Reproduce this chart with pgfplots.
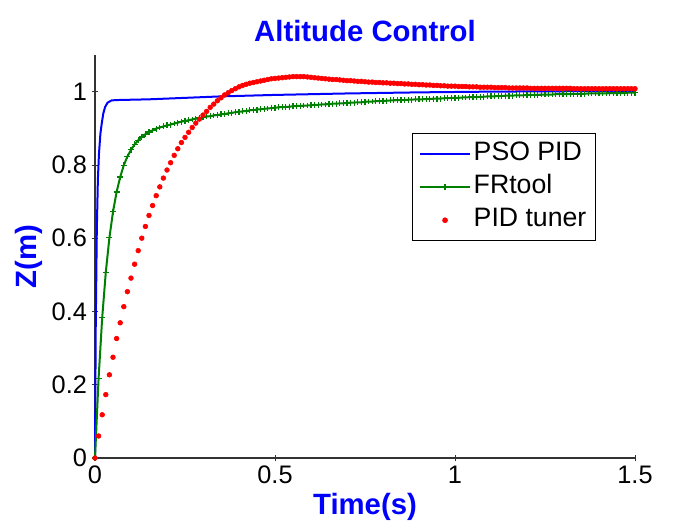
\documentclass[border=0pt]{standalone}
\usepackage{fontspec}
\setmainfont{Liberation Sans}
\usepackage{pgfplots}
\pgfplotsset{compat=1.18}
\usepackage{pgfplotstable}

\definecolor{mblue}{RGB}{0,0,255}
\definecolor{mgreen}{RGB}{0,128,0}
\definecolor{mred}{RGB}{255,0,0}

% PSO PID response
\pgfplotstableread{
t z
0.000 0.000
0.002 0.350
0.005 0.620
0.008 0.760
0.011 0.830
0.015 0.885
0.019 0.915
0.023 0.940
0.028 0.958
0.035 0.970
0.046 0.976
0.060 0.977
0.150 0.979
0.250 0.983
0.350 0.987
0.500 0.991
0.700 0.995
0.900 0.998
1.100 1.000
1.300 1.001
1.500 1.002
}\psodata

% FRtool response
\pgfplotstableread{
t z
0.00 0.000
0.01 0.218
0.02 0.383
0.03 0.507
0.04 0.601
0.05 0.672
0.06 0.726
0.07 0.767
0.08 0.799
0.09 0.823
0.10 0.841
0.11 0.856
0.12 0.867
0.13 0.876
0.14 0.884
0.15 0.890
0.16 0.894
0.17 0.899
0.18 0.902
0.19 0.905
0.20 0.908
0.21 0.910
0.22 0.913
0.23 0.915
0.24 0.918
0.25 0.920
0.26 0.922
0.27 0.924
0.28 0.926
0.29 0.928
0.30 0.930
0.31 0.932
0.32 0.933
0.33 0.935
0.34 0.936
0.35 0.938
0.36 0.939
0.37 0.941
0.38 0.942
0.39 0.944
0.40 0.945
0.41 0.946
0.42 0.947
0.43 0.949
0.44 0.950
0.45 0.951
0.46 0.952
0.47 0.953
0.48 0.954
0.49 0.955
0.50 0.956
0.51 0.957
0.52 0.958
0.53 0.958
0.54 0.959
0.55 0.960
0.56 0.961
0.57 0.961
0.58 0.962
0.59 0.962
0.60 0.963
0.61 0.964
0.62 0.964
0.63 0.965
0.64 0.965
0.65 0.966
0.66 0.967
0.67 0.967
0.68 0.968
0.69 0.968
0.70 0.969
0.71 0.970
0.72 0.970
0.73 0.971
0.74 0.971
0.75 0.972
0.76 0.973
0.77 0.973
0.78 0.974
0.79 0.974
0.80 0.975
0.81 0.975
0.82 0.976
0.83 0.976
0.84 0.977
0.85 0.977
0.86 0.977
0.87 0.978
0.88 0.978
0.89 0.979
0.90 0.979
0.91 0.979
0.92 0.980
0.93 0.980
0.94 0.981
0.95 0.981
0.96 0.981
0.97 0.982
0.98 0.982
0.99 0.983
1.00 0.983
1.01 0.983
1.02 0.984
1.03 0.984
1.04 0.985
1.05 0.985
1.06 0.985
1.07 0.986
1.08 0.986
1.09 0.987
1.10 0.987
1.11 0.987
1.12 0.988
1.13 0.988
1.14 0.989
1.15 0.989
1.16 0.989
1.17 0.990
1.18 0.990
1.19 0.990
1.20 0.991
1.21 0.991
1.22 0.991
1.23 0.991
1.24 0.992
1.25 0.992
1.26 0.992
1.27 0.992
1.28 0.993
1.29 0.993
1.30 0.993
1.31 0.993
1.32 0.993
1.33 0.994
1.34 0.994
1.35 0.994
1.36 0.994
1.37 0.995
1.38 0.995
1.39 0.995
1.40 0.995
1.41 0.995
1.42 0.995
1.43 0.996
1.44 0.996
1.45 0.996
1.46 0.996
1.47 0.996
1.48 0.997
1.49 0.997
1.50 0.997
}\frdata

% PID tuner response
\pgfplotstableread{
t z
0.00 0.000
0.01 0.060
0.02 0.118
0.03 0.173
0.04 0.227
0.05 0.275
0.06 0.326
0.07 0.369
0.08 0.413
0.09 0.454
0.10 0.491
0.11 0.529
0.12 0.566
0.13 0.600
0.14 0.632
0.15 0.662
0.16 0.689
0.17 0.716
0.18 0.740
0.19 0.764
0.20 0.786
0.21 0.806
0.22 0.826
0.23 0.844
0.24 0.861
0.25 0.875
0.26 0.889
0.27 0.902
0.28 0.914
0.29 0.925
0.30 0.936
0.31 0.946
0.32 0.957
0.33 0.966
0.34 0.975
0.35 0.983
0.36 0.991
0.37 0.997
0.38 1.003
0.39 1.008
0.40 1.013
0.41 1.017
0.42 1.020
0.43 1.023
0.44 1.025
0.45 1.027
0.46 1.029
0.47 1.031
0.48 1.033
0.49 1.035
0.50 1.036
0.51 1.037
0.52 1.038
0.53 1.039
0.54 1.040
0.55 1.041
0.56 1.041
0.57 1.041
0.58 1.041
0.59 1.040
0.60 1.039
0.61 1.038
0.62 1.037
0.63 1.036
0.64 1.035
0.65 1.034
0.66 1.033
0.67 1.033
0.68 1.032
0.69 1.031
0.70 1.030
0.71 1.030
0.72 1.029
0.73 1.028
0.74 1.028
0.75 1.027
0.76 1.026
0.77 1.026
0.78 1.025
0.79 1.025
0.80 1.024
0.81 1.024
0.82 1.023
0.83 1.023
0.84 1.022
0.85 1.022
0.86 1.021
0.87 1.021
0.88 1.020
0.89 1.020
0.90 1.019
0.91 1.019
0.92 1.018
0.93 1.018
0.94 1.017
0.95 1.017
0.96 1.016
0.97 1.016
0.98 1.015
0.99 1.015
1.00 1.015
1.01 1.014
1.02 1.014
1.03 1.014
1.04 1.013
1.05 1.013
1.06 1.013
1.07 1.012
1.08 1.012
1.09 1.012
1.10 1.012
1.11 1.011
1.12 1.011
1.13 1.011
1.14 1.011
1.15 1.010
1.16 1.010
1.17 1.010
1.18 1.010
1.19 1.010
1.20 1.010
1.21 1.009
1.22 1.009
1.23 1.009
1.24 1.009
1.25 1.009
1.26 1.009
1.27 1.009
1.28 1.009
1.29 1.009
1.30 1.009
1.31 1.009
1.32 1.009
1.33 1.008
1.34 1.008
1.35 1.008
1.36 1.008
1.37 1.008
1.38 1.008
1.39 1.008
1.40 1.008
1.41 1.008
1.42 1.008
1.43 1.008
1.44 1.008
1.45 1.008
1.46 1.008
1.47 1.008
1.48 1.008
1.49 1.008
1.50 1.008
}\piddata

\begin{document}
\begin{tikzpicture}
\begin{axis}[
    scale only axis,
    width=405pt,
    height=302.25pt,
    xmin=0, xmax=1.5,
    ymin=0, ymax=1.1,
    axis lines=left,
    axis line style={-, line width=0.8pt, black!80},
    xtick={0,0.5,1,1.5},
    ytick={0,0.2,0.4,0.6,0.8,1},
    tick style={black!80, line width=0.6pt},
    major tick length=5pt,
    tick label style={font=\fontsize{19}{22}\selectfont},
    /pgf/number format/assume math mode=true,
    title={Altitude Control},
    title style={font=\fontsize{22}{26}\selectfont\bfseries, text=mblue},
    xlabel={Time(s)},
    ylabel={Z(m)},
    label style={font=\fontsize{22}{26}\selectfont\bfseries, text=mblue},
    clip=false,
    legend cell align=left,
    legend image code/.code={
        \draw[mark repeat=2, mark phase=2, #1]
            plot coordinates {(0pt,0pt) (18.75pt,0pt) (37.5pt,0pt)};
    },
    legend style={
        at={(rel axis cs:0.587,0.806)}, anchor=north west,
        draw=black, line width=0.6pt, fill=white,
        font=\fontsize{20}{24}\selectfont,
        row sep=0pt, inner xsep=5pt, inner ysep=2.5pt,
        nodes={inner xsep=2pt, inner ysep=3.5pt, text height=14pt, text depth=4pt},
    },
]
\addplot[mblue, line width=1.5pt] table[x=t, y=z] {\psodata};
\addplot[mgreen, line width=1.5pt, mark=+, mark size=2.2pt,
    mark options={solid, line width=0.9pt}] table[x=t, y=z] {\frdata};
\addplot[only marks, mark=*, mark size=1.8pt,
    mark options={draw=mred, fill=mred}] table[x=t, y=z] {\piddata};
\legend{PSO PID, FRtool, PID tuner}
\end{axis}
\pgfresetboundingbox
\useasboundingbox ([shift={(-71.25pt,-48.75pt)}]current axis.south west)
    rectangle ([shift={(32.25pt,41.25pt)}]current axis.north east);
\end{tikzpicture}
\end{document}
